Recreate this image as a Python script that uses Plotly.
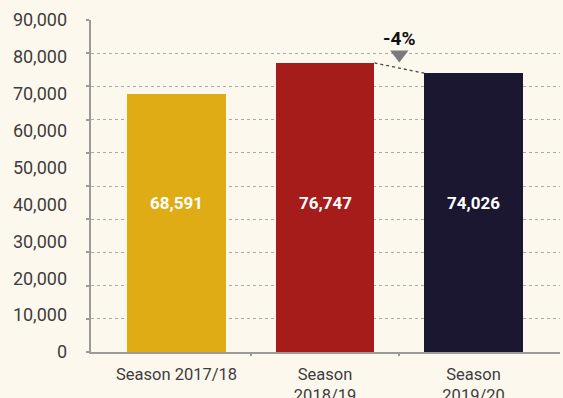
import plotly.graph_objects as go

# Attendance per season
seasons = ["Season 2017/18", "Season<br>2018/19", "Season<br>2019/20"]
attendance = [68591, 76747, 74026]
bar_colors = ["#DFAC16", "#A51C1A", "#1B1730"]

# value axis labels, and the separate dotted grid (ten bands)
label_ticks = [0, 10000, 20000, 30000, 40000, 50000, 60000, 70000, 80000, 90000]
grid_steps = list(range(11))

BG = "#FDF8ED"
TEXT = "#3d3d3d"
AXIS = "#9a9a9a"
FONT = "Roboto"

x_pos = list(range(len(seasons)))
bar_w = 0.665
x_range = [-0.576, 2.582]
bar_top = 88150

fig = go.Figure()

fig.add_trace(go.Bar(
    x=x_pos, y=attendance, width=bar_w,
    marker=dict(color=bar_colors, line=dict(width=0)),
    textposition="none", hoverinfo="skip", showlegend=False,
))

# value labels, all at one common height inside the bars
label_y = 39600
for x, v in zip(x_pos, attendance):
    fig.add_annotation(x=x, y=label_y, text=f"<b>{v:,}</b>", showarrow=False,
                       font=dict(family=FONT, size=17, color="white"))

# change between the last two seasons
prev, last = attendance[-2], attendance[-1]
change = (last - prev) / prev * 100
fig.add_trace(go.Scatter(
    x=[x_pos[-2] + bar_w / 2, x_pos[-1] - bar_w / 2], y=[prev, last],
    mode="lines", line=dict(color="#444444", width=1.3, dash="dot"),
    hoverinfo="skip", showlegend=False,
))
mid_x = (x_pos[-2] + x_pos[-1]) / 2
fig.add_trace(go.Scatter(
    x=[mid_x], y=[79000], mode="markers",
    marker=dict(symbol="triangle-down", size=16, color="#7a7a7a", line=dict(width=0)),
    hoverinfo="skip", showlegend=False,
))
fig.add_annotation(x=mid_x, y=83200, text=f"<b>{change:.0f}%</b>", showarrow=False,
                   font=dict(family=FONT, size=19, color="#111111"))

# separator ticks between categories on an overlaid x axis
fig.add_trace(go.Scatter(x=[mid_x], y=[0], xaxis="x2", mode="markers",
                         marker=dict(opacity=0), hoverinfo="skip", showlegend=False))
# overlaid y axes: dotted grid with ticks, and the labelled scale
fig.add_trace(go.Scatter(x=[mid_x], y=[0], yaxis="y2", mode="markers",
                         marker=dict(opacity=0), hoverinfo="skip", showlegend=False))
fig.add_trace(go.Scatter(x=[mid_x], y=[0], yaxis="y3", mode="markers",
                         marker=dict(opacity=0), hoverinfo="skip", showlegend=False))

fig.update_layout(
    width=563, height=398,
    margin=dict(l=91, r=3, t=20, b=46),
    paper_bgcolor=BG, plot_bgcolor=BG,
    font=dict(family=FONT, size=17, color=TEXT),
    bargap=0,
    xaxis=dict(
        range=x_range, tickmode="array", tickvals=x_pos, ticktext=seasons,
        ticks="", showgrid=False, zeroline=False, ticklabelstandoff=6,
        showline=True, linecolor=AXIS, linewidth=1.5, automargin=False,
        tickfont=dict(family=FONT, size=16.5, color=TEXT),
    ),
    xaxis2=dict(
        range=x_range, overlaying="x", tickmode="array",
        tickvals=[x + 0.5 for x in x_pos[:-1]], automargin=False,
        ticks="outside", ticklen=3, tickwidth=1.5, tickcolor=AXIS,
        showticklabels=False, showgrid=False, zeroline=False, showline=False,
    ),
    yaxis=dict(
        range=[0, bar_top], showticklabels=False, ticks="", automargin=False,
        showgrid=False, zeroline=False, showline=False,
    ),
    yaxis2=dict(
        range=[0, 10], overlaying="y", side="left", tickmode="array",
        tickvals=grid_steps, showticklabels=False, automargin=False,
        ticks="outside", ticklen=3, tickwidth=1.5, tickcolor=AXIS,
        showgrid=True, gridcolor="#aaaaaa", gridwidth=1, griddash="dot",
        zeroline=False, showline=True, linecolor=AXIS, linewidth=1.5,
    ),
    yaxis3=dict(
        range=[0, 90000], overlaying="y", side="left", tickmode="array",
        tickvals=label_ticks, ticktext=[f"{t:,}" for t in label_ticks],
        ticks="", ticklabelstandoff=23, automargin=False,
        showgrid=False, zeroline=False, showline=False,
        tickfont=dict(family=FONT, size=18, color=TEXT),
    ),
)

fig.write_html("out.html")
